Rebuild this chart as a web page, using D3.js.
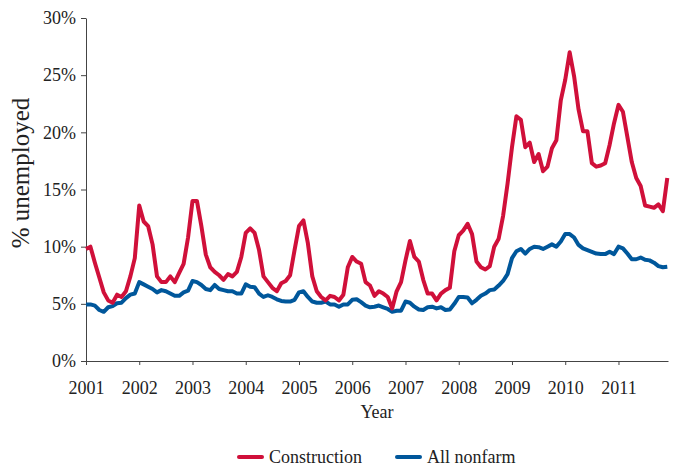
<!DOCTYPE html>
<html>
<head>
<meta charset="utf-8">
<script src="https://cdn.jsdelivr.net/npm/d3@7"></script>
<style>
  html, body { margin: 0; padding: 0; background: #fff; }
  svg { display: block; }
  text { font-family: "Liberation Serif", "Times New Roman", serif; fill: #222; }
</style>
</head>
<body>
<svg id="chart" width="677" height="466"></svg>
<script>
// ---- Data (monthly, Jan 2001 – Dec 2011) ----
const startYear = 2001;
const construction = [
  9.8, 10.0, 8.6, 7.3, 6.0, 5.3, 5.1, 5.8, 5.6, 6.1, 7.4, 9.0,        // 2001
  13.6, 12.2, 11.8, 10.2, 7.4, 6.9, 6.9, 7.4, 6.9, 7.7, 8.5, 10.8,    // 2002
  14.0, 14.0, 11.8, 9.3, 8.2, 7.8, 7.5, 7.1, 7.6, 7.4, 7.8, 9.1,      // 2003
  11.2, 11.6, 11.2, 9.7, 7.4, 6.9, 6.4, 6.1, 6.8, 7.0, 7.5, 9.7,      // 2004
  11.8, 12.3, 10.3, 7.4, 6.1, 5.6, 5.3, 5.7, 5.6, 5.3, 5.8, 8.2,      // 2005
  9.1, 8.7, 8.5, 6.9, 6.6, 5.7, 6.1, 5.9, 5.6, 4.6, 6.1, 6.9,         // 2006
  8.8, 10.5, 9.1, 8.7, 7.1, 5.9, 5.9, 5.3, 5.9, 6.2, 6.4, 9.6,        // 2007
  11.0, 11.4, 12.0, 11.1, 8.7, 8.2, 8.0, 8.3, 10.0, 10.7, 12.7, 15.5, // 2008
  18.7, 21.4, 21.1, 18.7, 19.1, 17.4, 18.1, 16.6, 17.0, 18.6, 19.3, 22.8, // 2009
  24.6, 27.0, 24.9, 22.0, 20.1, 20.1, 17.3, 17.0, 17.1, 17.3, 18.9, 20.8, // 2010
  22.4, 21.8, 19.6, 17.4, 16.0, 15.3, 13.6, 13.5, 13.4, 13.7, 13.1, 16.0  // 2011
];
const nonfarm = [
  4.95, 4.95, 4.84, 4.46, 4.3, 4.7, 4.8, 5.05, 5.1, 5.5, 5.8, 5.9,
  6.9, 6.7, 6.5, 6.3, 6.0, 6.2, 6.1, 5.9, 5.7, 5.7, 6.0, 6.15,
  7.0, 6.9, 6.65, 6.3, 6.2, 6.65, 6.3, 6.2, 6.1, 6.1, 5.9, 5.9,
  6.7, 6.5, 6.45, 5.9, 5.6, 5.75, 5.6, 5.4, 5.25, 5.2, 5.2, 5.35,
  6.0, 6.1, 5.6, 5.2, 5.1, 5.1, 5.2, 4.95, 4.95, 4.75, 4.95, 4.95,
  5.35, 5.4, 5.15, 4.85, 4.7, 4.75, 4.85, 4.7, 4.55, 4.3, 4.4, 4.4,
  5.2, 5.1, 4.75, 4.5, 4.46, 4.7, 4.75, 4.6, 4.7, 4.46, 4.5, 5.0,
  5.6, 5.6, 5.55, 5.05, 5.35, 5.7, 5.9, 6.2, 6.25, 6.6, 7.0, 7.6,
  9.0, 9.6, 9.8, 9.4, 9.8, 10.0, 9.95, 9.8, 10.0, 10.2, 10.0, 10.45,
  11.1, 11.1, 10.8, 10.15, 9.85, 9.7, 9.55, 9.4, 9.35, 9.35, 9.55, 9.35,
  10.0, 9.85, 9.4, 8.9, 8.9, 9.05, 8.85, 8.8, 8.6, 8.3, 8.2, 8.25
];
const yearTicks = [2001, 2002, 2003, 2004, 2005, 2006, 2007, 2008, 2009, 2010, 2011];
const pctTicks = [0, 5, 10, 15, 20, 25, 30];
const seriesNames = ["Construction", "All nonfarm"];
const seriesColors = ["#D0103A", "#00579B"];
const xTitle = "Year";
const yTitle = "% unemployed";

(function () {
  const svg = d3.select("#chart");
  const mLeft = 86, mRight = 668, mTop = 18, mBottom = 361;

  const x = d3.scaleLinear().domain([2001, 2011.93]).range([mLeft, mRight]);
  const y = d3.scaleLinear().domain([0, 30]).range([mBottom, mTop]);

  const axisColor = "#444";

  // X axis
  const gx = svg.append("g")
    .attr("transform", `translate(0,${mBottom})`)
    .call(d3.axisBottom(x).tickValues(yearTicks).tickFormat(d3.format("d"))
      .tickSize(4).tickSizeOuter(0).tickPadding(16));
  gx.select(".domain").attr("stroke", axisColor);
  gx.selectAll(".tick line").attr("stroke", axisColor);
  gx.selectAll(".tick text").attr("font-size", 18).attr("font-family", "Liberation Serif").attr("fill", "#222");

  // Y axis
  const gy = svg.append("g")
    .attr("transform", `translate(${mLeft},0)`)
    .call(d3.axisLeft(y).tickValues(pctTicks).tickFormat(d => d + "%")
      .tickSize(5).tickSizeOuter(0).tickPadding(5));
  gy.select(".domain").attr("stroke", axisColor);
  gy.selectAll(".tick line").attr("stroke", axisColor);
  gy.selectAll(".tick text").attr("font-size", 18).attr("font-family", "Liberation Serif").attr("fill", "#222");

  // Titles
  svg.append("text")
    .attr("x", (mLeft + mRight) / 2).attr("y", 418)
    .attr("text-anchor", "middle").attr("font-size", 18)
    .text(xTitle);

  svg.append("text")
    .attr("transform", `translate(29,173) rotate(-90)`)
    .attr("text-anchor", "middle").attr("font-size", 25)
    .text(yTitle);

  // Lines
  const line = d3.line()
    .x((d, i) => x(startYear + i / 12))
    .y(d => y(d));

  const allSeries = [construction, nonfarm];
  [1, 0].forEach(k => {
    svg.append("path")
      .datum(allSeries[k])
      .attr("d", line)
      .attr("fill", "none")
      .attr("stroke", seriesColors[k])
      .attr("stroke-width", 4)
      .attr("stroke-linejoin", "round")
      .attr("stroke-linecap", "butt");
  });

  // Legend
  const legendX = [239, 397];
  seriesNames.forEach((name, k) => {
    const g = svg.append("g").attr("transform", `translate(${legendX[k]},457)`);
    g.append("line").attr("x1", 0).attr("x2", 23).attr("y1", 0).attr("y2", 0)
      .attr("stroke", seriesColors[k]).attr("stroke-width", 4).attr("stroke-linecap", "round");
    g.append("text").attr("x", 30).attr("y", 6).attr("font-size", 18).text(name);
  });
})();
</script>
</body>
</html>
